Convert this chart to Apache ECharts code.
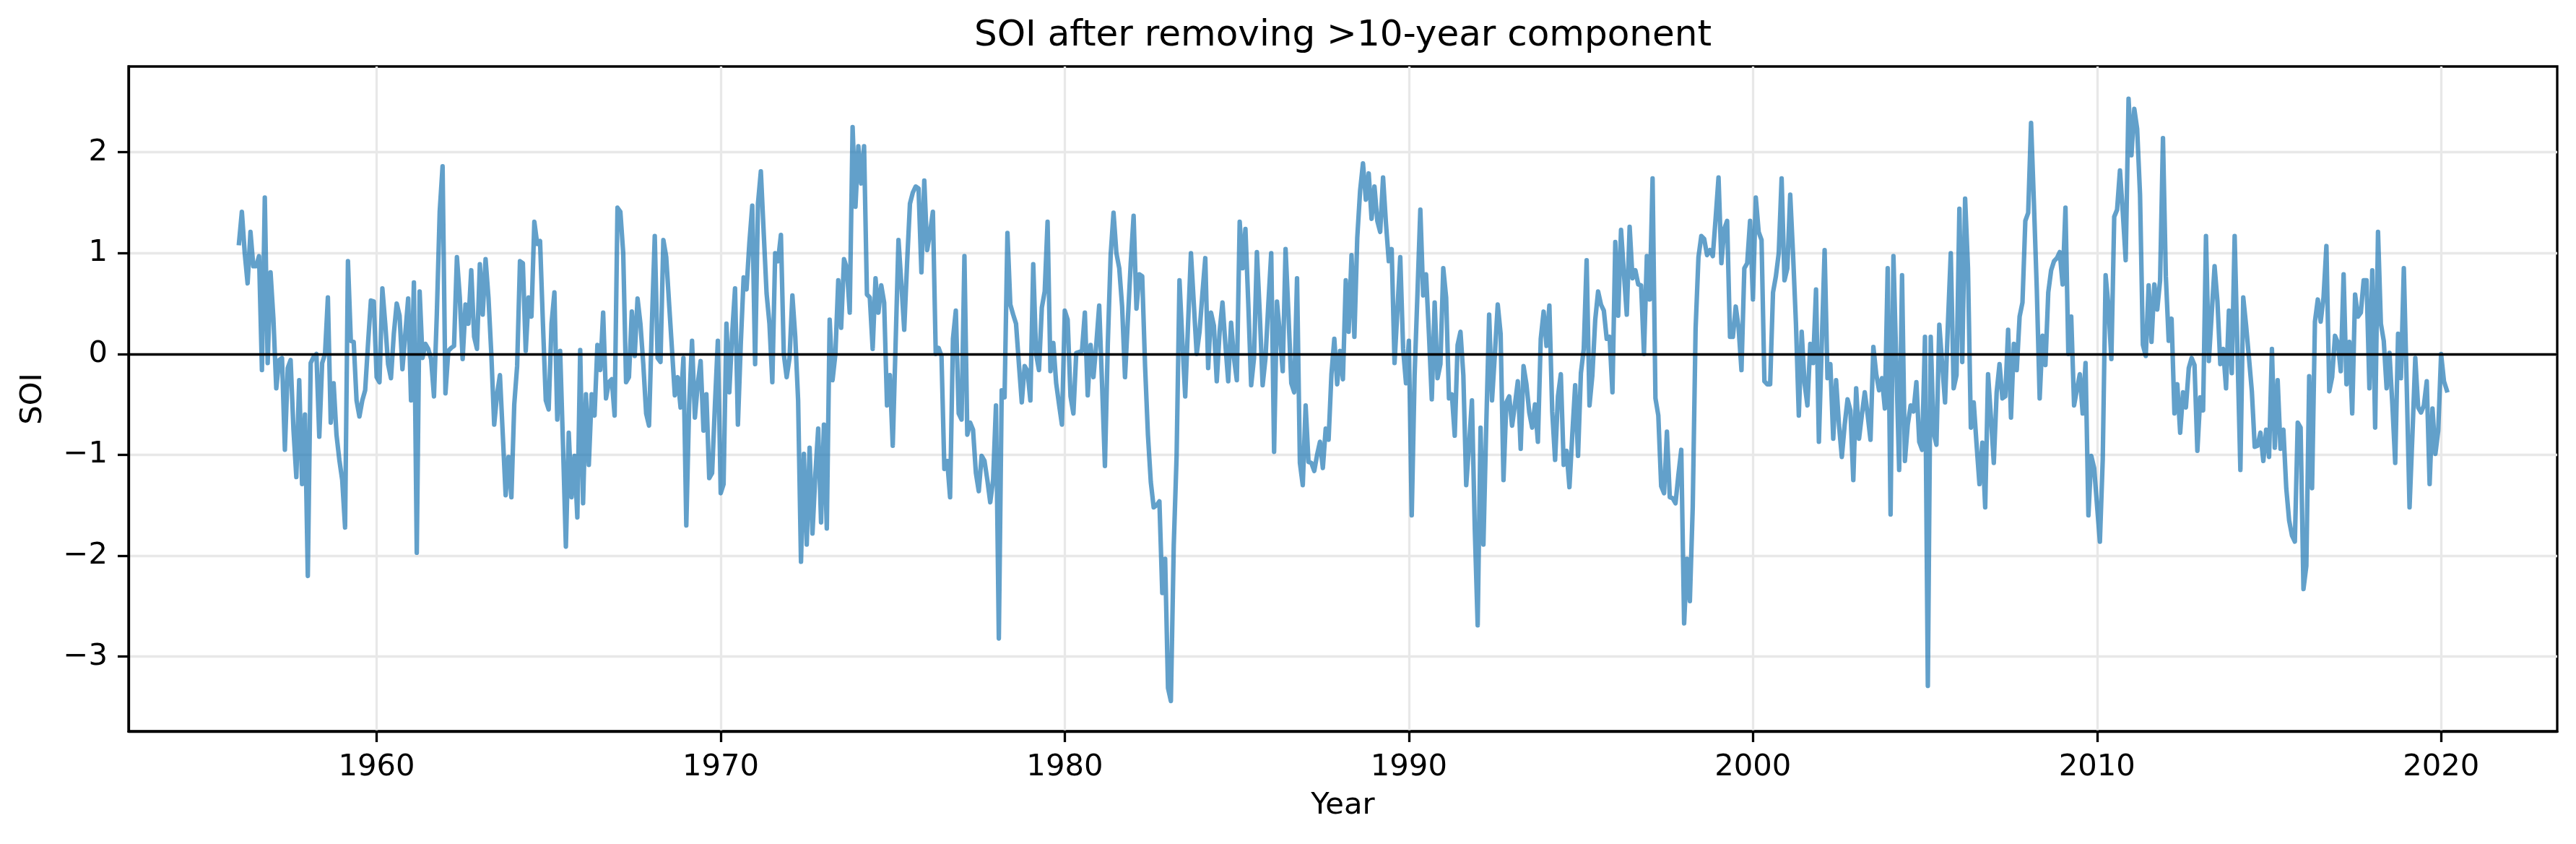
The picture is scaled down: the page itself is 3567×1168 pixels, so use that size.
<!DOCTYPE html>
<html><head><meta charset="utf-8">
<script src="https://cdn.jsdelivr.net/npm/echarts@6/dist/echarts.min.js"></script>
<style>html,body{margin:0;padding:0;background:#fff}#c{width:3567px;height:1168px}</style>
</head><body><div id="c"></div>
<script>
// Monthly SOI (>10-year component removed), Jan 1956 onward
const startYear = 1956;
const soi1956to1965 = [
  1.10, 1.41, 1.00, 0.70, 1.21, 0.87, 0.87, 0.97, -0.16, 1.55, -0.09, 0.81,
  0.35, -0.34, -0.06, -0.04, -0.95, -0.14, -0.06, -0.75, -1.22, -0.26, -1.29, -0.60,
  -2.20, -0.09, -0.03, 0.00, -0.82, -0.09, 0.00, 0.56, -0.68, -0.29, -0.80, -1.05,
  -1.25, -1.72, 0.92, 0.13, 0.12, -0.46, -0.62, -0.46, -0.36, 0.10, 0.53, 0.52,
  -0.23, -0.28, 0.65, 0.30, -0.10, -0.24, 0.20, 0.50, 0.38, -0.15, 0.20, 0.55,
  -0.46, 0.71, -1.97, 0.62, -0.04, 0.10, 0.05, -0.05, -0.42, 0.40, 1.41, 1.86,
  -0.39, 0.03, 0.06, 0.08, 0.96, 0.56, -0.05, 0.49, 0.30, 0.83, 0.17, 0.05,
  0.89, 0.39, 0.94, 0.56, 0.00, -0.70, -0.40, -0.21, -0.80, -1.40, -1.02, -1.42,
  -0.50, -0.12, 0.92, 0.90, 0.03, 0.56, 0.37, 1.31, 1.09, 1.12, 0.30, -0.46,
  -0.55, 0.30, 0.61, -0.65, 0.03, -0.90, -1.91, -0.78, -1.42, -1.01, -1.62, 0.04
];
const soi1966to1975 = [
  -1.48, -0.40, -1.10, -0.40, -0.61, 0.09, -0.16, 0.41, -0.44, -0.28, -0.25, -0.61,
  1.45, 1.41, 1.00, -0.28, -0.23, 0.42, -0.02, 0.55, 0.30, -0.10, -0.59, -0.71,
  0.30, 1.17, -0.04, -0.08, 1.13, 0.96, 0.50, 0.05, -0.41, -0.23, -0.53, -0.04,
  -1.70, -0.50, 0.13, -0.63, -0.30, -0.07, -0.76, -0.40, -1.23, -1.18, -0.50, 0.13,
  -1.38, -1.29, 0.30, -0.38, 0.20, 0.65, -0.70, 0.10, 0.76, 0.64, 1.10, 1.47,
  -0.10, 1.49, 1.81, 1.20, 0.60, 0.30, -0.28, 1.00, 0.92, 1.18, 0.00, -0.23,
  -0.04, 0.58, 0.17, -0.46, -2.06, -0.99, -1.89, -0.93, -1.78, -1.20, -0.74, -1.67,
  -0.70, -1.73, 0.34, -0.26, 0.00, 0.73, 0.26, 0.94, 0.85, 0.41, 2.25, 1.46,
  2.06, 1.69, 2.06, 0.59, 0.56, 0.05, 0.75, 0.41, 0.68, 0.51, -0.51, -0.21,
  -0.91, 0.10, 1.13, 0.70, 0.24, 0.90, 1.49, 1.60, 1.66, 1.64, 0.81, 1.72
];
const soi1976to1985 = [
  1.03, 1.20, 1.41, 0.00, 0.06, -0.02, -1.14, -1.06, -1.42, 0.15, 0.43, -0.59,
  -0.65, 0.97, -0.80, -0.68, -0.75, -1.18, -1.36, -1.01, -1.06, -1.25, -1.47, -1.25,
  -0.51, -2.82, -0.36, -0.43, 1.20, 0.49, 0.39, 0.30, -0.10, -0.48, -0.12, -0.17,
  -0.46, 0.89, 0.00, -0.16, 0.46, 0.62, 1.31, -0.17, 0.11, -0.29, -0.50, -0.70,
  0.43, 0.34, -0.42, -0.59, 0.01, 0.02, 0.03, 0.41, -0.41, 0.09, -0.23, 0.10,
  0.48, -0.30, -1.11, 0.10, 0.98, 1.40, 1.00, 0.85, 0.47, -0.23, 0.34, 0.90,
  1.37, 0.45, 0.79, 0.77, -0.12, -0.80, -1.27, -1.52, -1.50, -1.46, -2.37, -2.03,
  -3.31, -3.44, -1.90, -1.01, 0.73, 0.13, -0.42, 0.30, 1.00, 0.50, 0.00, 0.22,
  0.60, 0.95, -0.14, 0.41, 0.28, -0.27, 0.22, 0.51, 0.10, -0.27, 0.31, -0.04,
  -0.26, 1.31, 0.85, 1.24, 0.50, -0.31, -0.04, 1.01, 0.40, -0.31, -0.04, 0.50
];
const soi1986to1995 = [
  1.00, -0.97, 0.52, 0.20, -0.17, 1.04, 0.40, -0.29, -0.38, 0.75, -1.08, -1.30,
  -0.51, -1.07, -1.08, -1.16, -1.00, -0.87, -1.13, -0.74, -0.85, -0.20, 0.15, -0.30,
  0.03, -0.25, 0.73, 0.22, 0.98, 0.17, 1.15, 1.62, 1.89, 1.53, 1.79, 1.34,
  1.66, 1.32, 1.21, 1.75, 1.30, 0.92, 1.04, -0.09, 0.43, 0.96, 0.05, -0.29,
  0.13, -1.60, -0.21, 0.60, 1.43, 0.58, 0.79, 0.20, -0.45, 0.51, -0.24, -0.10,
  0.85, 0.56, -0.44, -0.40, -0.81, 0.09, 0.22, -0.21, -1.30, -0.90, -0.46, -1.74,
  -2.69, -0.73, -1.89, -0.70, 0.39, -0.46, 0.00, 0.49, 0.20, -1.25, -0.48, -0.42,
  -0.71, -0.50, -0.27, -0.94, -0.12, -0.30, -0.58, -0.73, -0.50, -0.87, 0.15, 0.42,
  0.08, 0.48, -0.57, -1.05, -0.42, -0.20, -1.10, -0.96, -1.32, -0.80, -0.31, -1.01,
  -0.19, 0.05, 0.93, -0.51, -0.21, 0.34, 0.62, 0.49, 0.43, 0.15, 0.17, -0.38
];
const soi1996to2005 = [
  1.11, 0.38, 1.23, 0.80, 0.39, 1.26, 0.75, 0.83, 0.69, 0.68, 0.00, 0.97,
  0.54, 1.74, -0.44, -0.61, -1.31, -1.38, -0.77, -1.42, -1.43, -1.48, -1.20, -0.95,
  -2.67, -2.03, -2.45, -1.52, 0.25, 0.96, 1.17, 1.14, 0.98, 1.03, 0.97, 1.35,
  1.75, 0.90, 1.24, 1.32, 0.17, 0.17, 0.47, 0.26, -0.16, 0.85, 0.90, 1.32,
  0.54, 1.55, 1.21, 1.13, -0.27, -0.30, -0.30, 0.61, 0.77, 1.00, 1.74, 0.73,
  0.85, 1.58, 0.98, 0.30, -0.61, 0.22, -0.29, -0.51, 0.10, -0.09, 0.64, -0.87,
  0.10, 1.03, -0.24, -0.10, -0.84, -0.26, -0.70, -1.02, -0.70, -0.45, -0.56, -1.25,
  -0.34, -0.84, -0.60, -0.38, -0.60, -0.85, 0.07, -0.20, -0.36, -0.24, -0.54, 0.85,
  -1.59, 0.97, -0.10, -1.15, 0.78, -1.06, -0.70, -0.51, -0.57, -0.28, -0.87, -0.95,
  0.17, -3.29, 0.17, -0.78, -0.90, 0.29, -0.10, -0.48, 0.30, 1.00, -0.34, -0.21
];
const soi2006to2015 = [
  1.44, -0.08, 1.54, 0.85, -0.73, -0.48, -0.90, -1.29, -0.88, -1.52, -0.20, -0.63,
  -1.08, -0.38, -0.10, -0.44, -0.42, 0.24, -0.63, 0.10, -0.16, 0.37, 0.51, 1.32,
  1.40, 2.29, 1.49, 0.64, -0.44, 0.18, -0.11, 0.61, 0.83, 0.92, 0.95, 1.01,
  0.69, 1.45, 0.00, 0.37, -0.51, -0.35, -0.20, -0.59, -0.09, -1.60, -1.01, -1.13,
  -1.50, -1.86, -1.04, 0.78, 0.47, -0.05, 1.36, 1.43, 1.82, 1.40, 0.93, 2.53,
  1.97, 2.43, 2.23, 1.58, 0.09, -0.02, 0.68, 0.12, 0.69, 0.44, 0.73, 2.14,
  0.77, 0.13, 0.35, -0.59, -0.30, -0.78, -0.38, -0.53, -0.14, -0.04, -0.11, -0.96,
  -0.43, -0.56, 1.17, -0.07, 0.40, 0.87, 0.52, -0.10, 0.05, -0.34, 0.43, -0.19,
  1.17, 0.00, -1.15, 0.56, 0.28, -0.04, -0.37, -0.92, -0.91, -0.78, -1.06, -0.75,
  -1.02, 0.05, -0.93, -0.26, -0.94, -0.75, -1.33, -1.65, -1.80, -1.86, -0.68, -0.73
];
const soi2016to2020 = [
  -2.33, -2.10, -0.22, -1.33, 0.32, 0.54, 0.32, 0.56, 1.07, -0.37, -0.23, 0.18,
  0.11, -0.17, 0.79, -0.30, 0.12, -0.59, 0.59, 0.37, 0.41, 0.73, 0.73, -0.34,
  0.83, -0.73, 1.21, 0.30, 0.13, -0.34, 0.01, -0.50, -1.08, 0.20, -0.24, 0.85,
  -0.30, -1.52, -0.80, -0.04, -0.53, -0.58, -0.51, -0.27, -1.29, -0.54, -0.99, -0.76,
  0.00, -0.27, -0.36
];
const xTicks = [1960, 1970, 1980, 1990, 2000, 2010, 2020];
const yTicks = [-3, -2, -1, 0, 1, 2];

const values = [].concat(soi1956to1965, soi1966to1975, soi1976to1985,
  soi1986to1995, soi1996to2005, soi2006to2015, soi2016to2020);
const seriesData = values.map((v, i) => [startYear + i / 12, v]);

const font = 'DejaVu Sans';
const fs = 41.7;
const fmt = v => (v < 0 ? '\u2212' + Math.abs(v) : String(v));

const chart = echarts.init(document.getElementById('c'), null, { renderer: 'canvas' });
chart.setOption({
  animation: false,
  backgroundColor: '#ffffff',
  title: {
    text: 'SOI after removing >10-year component',
    left: 1859.5, textAlign: 'center', top: 25, padding: 0,
    textStyle: { fontFamily: font, fontSize: 50, fontWeight: 'normal', color: '#000' }
  },
  grid: { left: 178, right: 26, top: 92, bottom: 156, show: true, borderColor: '#000', borderWidth: 3.3, backgroundColor: 'transparent' },
  xAxis: {
    type: 'value', min: 1952.79, max: 2023.375,
    name: 'Year', nameLocation: 'middle', nameGap: 82,
    nameTextStyle: { fontFamily: font, fontSize: fs, color: '#000' },
    axisLine: { show: true, onZero: false, lineStyle: { color: '#000', width: 3.3 } },
    axisTick: { show: true, inside: false, length: 15, customValues: xTicks, lineStyle: { color: '#000', width: 3.3 } },
    axisLabel: { customValues: xTicks, margin: 29, fontFamily: font, fontSize: fs, color: '#000', formatter: v => String(v) },
    splitLine: { show: true, lineStyle: { color: '#e8e8e8', width: 3.3 } }
  },
  yAxis: {
    type: 'value', min: -3.74, max: 2.85,
    name: 'SOI', nameLocation: 'middle', nameGap: 111,
    nameTextStyle: { fontFamily: font, fontSize: fs, color: '#000' },
    axisLine: { show: true, onZero: false, lineStyle: { color: '#000', width: 3.3 } },
    axisTick: { show: true, inside: false, length: 15, customValues: yTicks, lineStyle: { color: '#000', width: 3.3 } },
    axisLabel: { customValues: yTicks, margin: 29, fontFamily: font, fontSize: fs, color: '#000', formatter: fmt },
    splitLine: { show: true, lineStyle: { color: '#e8e8e8', width: 3.3 } }
  },
  series: [{
    type: 'line',
    data: seriesData,
    showSymbol: false,
    symbol: 'none',
    lineStyle: { color: '#1f77b4', opacity: 0.7, width: 6.25, join: 'round', cap: 'square' },
    markLine: {
      silent: true, symbol: 'none', animation: false,
      label: { show: false },
      lineStyle: { color: '#000', width: 3.3, type: 'solid', opacity: 1 },
      data: [{ yAxis: 0 }]
    }
  }]
});
</script>
</body></html>
